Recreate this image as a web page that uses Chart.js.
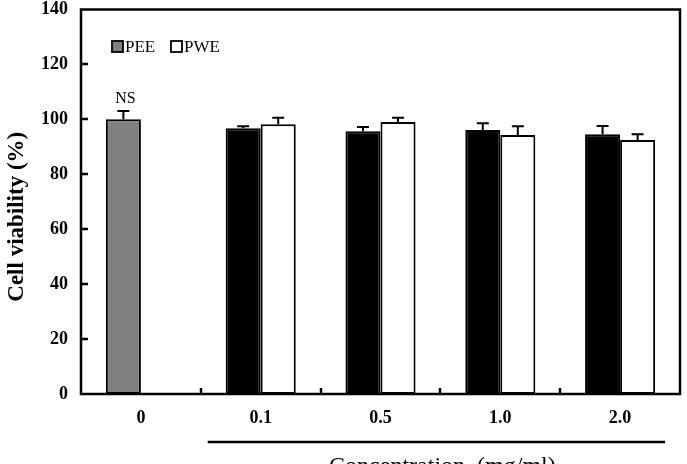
<!DOCTYPE html>
<html>
<head>
<meta charset="utf-8">
<script src="https://cdn.jsdelivr.net/npm/chart.js@4.4.1/dist/chart.umd.min.js"></script>
<style>
  html, body { margin: 0; padding: 0; background: #fff; }
  #wrap { width: 687px; height: 464px; position: relative; }
</style>
</head>
<body>
<div id="wrap"><canvas id="viabilityChart"></canvas></div>
<script>
// ----- data -----
const categories = ['0', '0.1', '0.5', '1.0', '2.0'];
const peeValues = [100, 96.8, 95.7, 96.1, 94.6];
const peeErrors = [3, 0.7, 1.5, 2.5, 3];
const pweValues = [null, 98.2, 99.0, 94.3, 92.5];
const pweErrors = [null, 2.4, 1.6, 3.2, 2.1];
const yMin = 0, yMax = 140, yStep = 20;

const serif = "'Liberation Serif', 'Times New Roman', serif";

// Upward error bars, NS mark, inward ticks, box frame, legend and axis titles
const decorations = {
    id: 'decorations',
    afterDatasetsDraw(chart) {
        const ctx = chart.ctx;
        const y = chart.scales.y;
        const errs = [peeErrors, pweErrors];
        ctx.save();
        ctx.strokeStyle = '#000';
        ctx.lineWidth = 2;
        chart.data.datasets.forEach((ds, di) => {
            const meta = chart.getDatasetMeta(di);
            meta.data.forEach((bar, i) => {
                const v = ds.data[i];
                const e = errs[di][i];
                if (v == null || e == null) return;
                const top = y.getPixelForValue(v + e);
                ctx.beginPath();
                ctx.moveTo(bar.x, bar.y);
                ctx.lineTo(bar.x, top);
                ctx.moveTo(bar.x - 6, top);
                ctx.lineTo(bar.x + 6, top);
                ctx.stroke();
            });
        });

        // "NS" above the control bar
        const ctrl = chart.getDatasetMeta(0).data[0];
        ctx.fillStyle = '#000';
        ctx.font = '16px ' + serif;
        ctx.textAlign = 'center';
        ctx.textBaseline = 'alphabetic';
        ctx.fillText('NS', ctrl.x + 2, y.getPixelForValue(peeValues[0] + peeErrors[0]) - 8);
        ctx.restore();
    },
    afterDraw(chart) {
        const ctx = chart.ctx;
        const a = chart.chartArea;
        const x = chart.scales.x;
        const y = chart.scales.y;
        ctx.save();
        ctx.strokeStyle = '#000';

        // frame
        ctx.lineWidth = 2.5;
        ctx.strokeRect(a.left, a.top, a.right - a.left, a.bottom - a.top);

        // inward ticks
        ctx.lineWidth = 2.5;
        ctx.beginPath();
        for (let v = yMin + yStep; v < yMax; v += yStep) {
            const py = Math.round(y.getPixelForValue(v));
            ctx.moveTo(a.left, py);
            ctx.lineTo(a.left + 7, py);
        }
        for (let i = 0; i < categories.length - 1; i++) {
            const px = Math.round((x.getPixelForValue(i) + x.getPixelForValue(i + 1)) / 2);
            ctx.moveTo(px, a.bottom);
            ctx.lineTo(px, a.bottom - 6);
        }
        ctx.stroke();

        // legend
        ctx.font = '17px ' + serif;
        ctx.fillStyle = '#000';
        ctx.textAlign = 'left';
        ctx.textBaseline = 'middle';
        let lx = a.left + 31;
        const ly = a.top + 37;
        const items = [['PEE', '#808080'], ['PWE', '#ffffff']];
        items.forEach(([label, fill]) => {
            ctx.fillStyle = fill;
            ctx.fillRect(lx, ly - 5.5, 11, 11);
            ctx.lineWidth = 1.8;
            ctx.strokeRect(lx, ly - 5.5, 11, 11);
            ctx.fillStyle = '#000';
            ctx.fillText(label, lx + 13, ly + 1);
            lx += 59;
        });

        // y title
        ctx.save();
        ctx.translate(17, (a.top + a.bottom) / 2 + 15);
        ctx.rotate(-Math.PI / 2);
        ctx.font = 'bold 23px ' + serif;
        ctx.textAlign = 'center';
        ctx.textBaseline = 'middle';
        ctx.fillText('Cell viability (%)', 0, 0);
        ctx.restore();

        // concentration bracket and title
        const lineY = a.bottom + 48;
        const x1 = x.getPixelForValue(1) - 53;
        const x2 = x.getPixelForValue(4) + 45;
        ctx.lineWidth = 2.5;
        ctx.beginPath();
        ctx.moveTo(x1, lineY);
        ctx.lineTo(x2, lineY);
        ctx.stroke();
        ctx.font = '24px ' + serif;
        ctx.textAlign = 'center';
        ctx.textBaseline = 'top';
        ctx.fillText('Concentration  (mg/ml)', (x1 + x2) / 2 + 6, lineY + 13);
        ctx.restore();
    }
};

new Chart(document.getElementById('viabilityChart'), {
    type: 'bar',
    data: {
        labels: categories,
        datasets: [{
            label: 'PEE',
            data: peeValues,
            backgroundColor: peeValues.map((v, i) => i === 0 ? '#808080' : '#000000'),
            borderColor: '#000',
            borderWidth: 2,
            borderSkipped: false
        }, {
            label: 'PWE',
            data: pweValues,
            backgroundColor: '#ffffff',
            borderColor: '#000',
            borderWidth: 2,
            borderSkipped: false
        }]
    },
    options: {
        responsive: true,
        maintainAspectRatio: false,
        animation: false,
        categoryPercentage: 0.585,
        barPercentage: 1.0,
        layout: { padding: { top: 9.5, right: 7, left: 0, bottom: 0 } },
        plugins: {
            legend: { display: false },
            tooltip: { enabled: false }
        },
        scales: {
            x: {
                grid: { display: false, drawTicks: false },
                border: { display: false },
                ticks: {
                    padding: 14,
                    color: '#000',
                    font: { family: serif, size: 18, weight: 'bold' }
                },
                afterFit: s => { s.height = 70; }
            },
            y: {
                min: yMin,
                max: yMax,
                grid: { display: false, drawTicks: false },
                border: { display: false },
                ticks: {
                    stepSize: yStep,
                    padding: 13,
                    color: '#000',
                    font: { family: serif, size: 18, weight: 'bold' }
                },
                afterFit: s => {
                    s.width = 81;
                    s.paddingTop = 0;
                    s.paddingBottom = 0;
                }
            }
        }
    },
    plugins: [decorations]
});
</script>
</body>
</html>
